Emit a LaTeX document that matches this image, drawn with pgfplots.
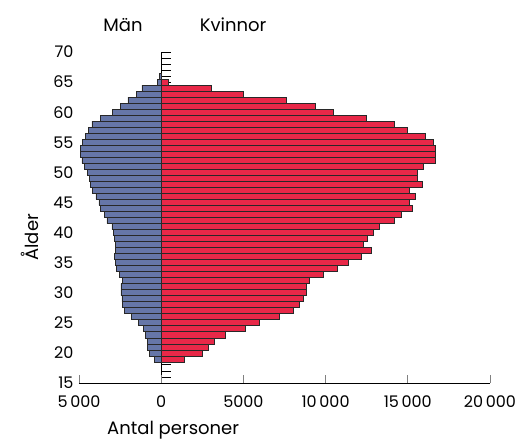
\documentclass[border=0pt]{standalone}
\usepackage{pgfplots}
\pgfplotsset{compat=1.18}
\usepackage{fontspec}
\setmainfont{Poppins}
\definecolor{menblue}{RGB}{102,118,168}
\definecolor{womred}{RGB}{232,40,72}
\definecolor{edge}{RGB}{40,40,40}
\begin{document}
\begin{tikzpicture}
\useasboundingbox (-79pt,-58pt) rectangle (450pt,383pt);
\begin{axis}[
  at={(82.2pt,0pt)}, anchor=south west,
  scale only axis, width=328pt, height=331pt,
  xmin=0, xmax=1, ymin=15, ymax=70,
  hide x axis,
  axis y line=left,
  y axis line style={-, black, line width=0.8pt},
  ytick={15,...,70}, yticklabels={},
  ytick pos=left,
  tick align=inside, major tick length=10pt,
  every tick/.style={black, line width=0.9pt},
]
\end{axis}
\begin{axis}[
  at={(0pt,0pt)}, anchor=south west,
  scale only axis, width=411pt, height=331pt,
  xmin=-5000, xmax=20000, ymin=15, ymax=70,
  axis x line=bottom, axis y line=left,
  x axis line style={-, line width=0.8pt},
  y axis line style={draw=none},
  xtick={-5000,0,5000,10000,15000,20000},
  xticklabels={5\,000,0,5000,10\,000,15\,000,20\,000},
  scaled x ticks=false,
  ytick={15,20,...,70},
  ytick style={draw=none},
  xtick style={line width=0.8pt},
  tick align=inside, major tick length=8pt,
  /pgf/number format/assume math mode=true,
  ticklabel style={font=\fontsize{16}{16}\selectfont},
  xticklabel style={yshift=-9pt},
  yticklabel style={xshift=-2pt},
  xlabel={Antal personer}, ylabel={Ålder},
  every axis x label/.style={at={(rel axis cs:0.229,0)}, anchor=center, yshift=-47pt, font=\fontsize{18}{18}\selectfont},
  every axis y label/.style={at={(rel axis cs:0,0.44)}, xshift=-49pt, rotate=90, anchor=center, font=\fontsize{18}{18}\selectfont},
  clip=false,
]
\addplot[xbar, bar width=1, bar shift=0pt, fill=menblue, draw=edge, line width=0.7pt]
coordinates {
(-390,19) (-730,20) (-830,21) (-830,22) (-970,23) (-1100,24) (-1380,25) (-1800,26)
(-2250,27) (-2350,28) (-2390,29) (-2450,30) (-2450,31) (-2350,32) (-2550,33) (-2700,34)
(-2800,35) (-2840,36) (-2800,37) (-2800,38) (-2860,39) (-2920,40) (-3000,41) (-3300,42)
(-3450,43) (-3680,44) (-3790,45) (-3970,46) (-4170,47) (-4310,48) (-4370,49) (-4510,50)
(-4650,51) (-4820,52) (-4910,53) (-4910,54) (-4780,55) (-4610,56) (-4450,57) (-4210,58)
(-3700,59) (-2960,60) (-2480,61) (-2020,62) (-1530,63) (-1170,64) (-250,65) (-100,66)
};
\addplot[xbar, bar width=1, bar shift=0pt, fill=womred, draw=edge, line width=0.7pt]
coordinates {
(1400,19) (2510,20) (2880,21) (3260,22) (3890,23) (5110,24) (5960,25) (7180,26)
(8030,27) (8390,28) (8660,29) (8800,30) (8800,31) (9000,32) (9850,33) (10730,34)
(11380,35) (12190,36) (12810,37) (12310,38) (12550,39) (12900,40) (13260,41) (14170,42)
(14620,43) (15250,44) (15090,45) (15450,46) (15090,47) (15860,48) (15600,49) (15600,50)
(15960,51) (16670,52) (16670,53) (16670,54) (16570,55) (16060,56) (14980,57) (14170,58)
(12450,59) (10480,60) (9370,61) (7640,62) (5010,63) (3020,64) (430,65)
};
\node[font=\fontsize{18}{18}\selectfont] at (rel axis cs:0.107,1) [yshift=27pt] {Män};
\node[font=\fontsize{18}{18}\selectfont] at (rel axis cs:0.375,1) [yshift=27pt] {Kvinnor};
\end{axis}
\end{tikzpicture}
\end{document}
